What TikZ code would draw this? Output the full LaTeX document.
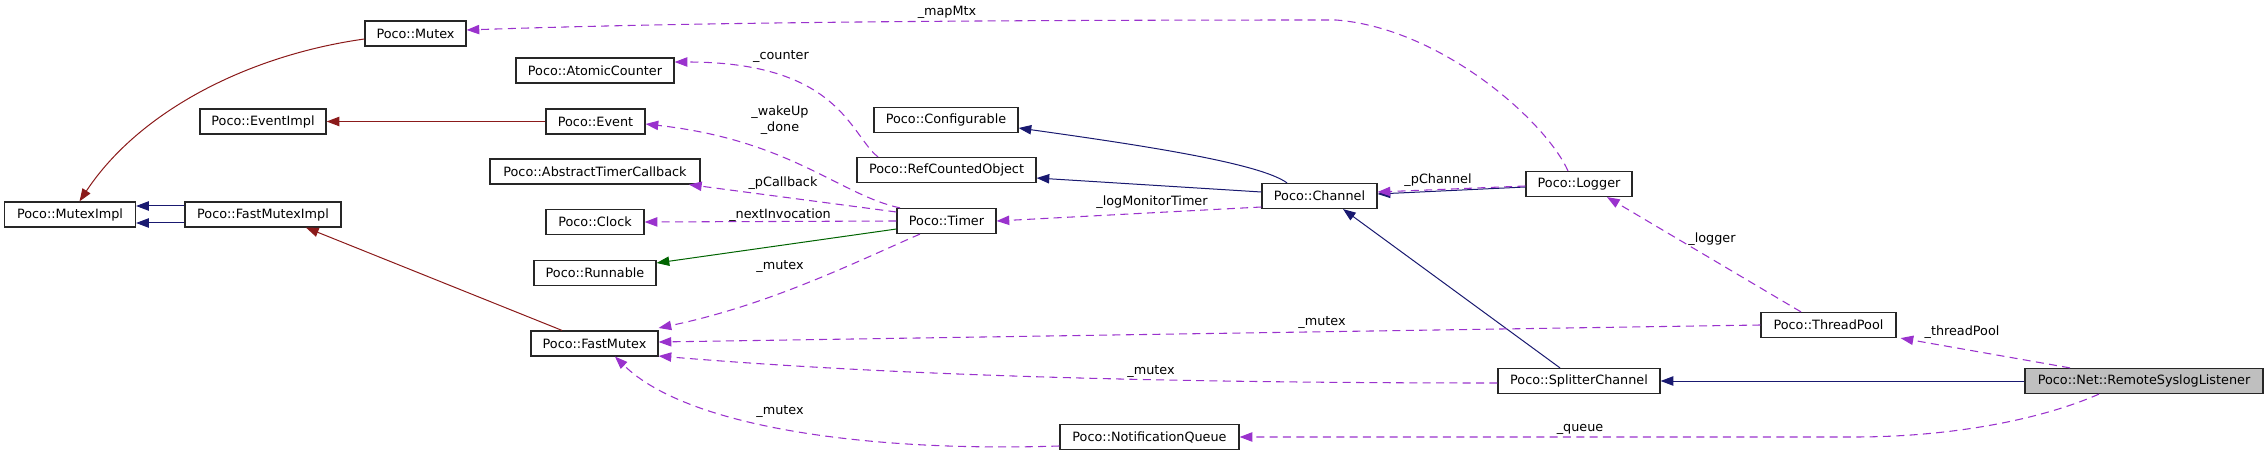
\documentclass[tikz,border=0pt]{standalone}
\usepackage{fontspec}
\setmainfont{DejaVu Sans}
\usetikzlibrary{arrows.meta}
\newlength\pxu
\setlength\pxu{0.75pt}
\definecolor{usecol}{HTML}{9A32CD}
\definecolor{inhcol}{HTML}{191970}
\definecolor{privcol}{HTML}{8B1A1A}
\definecolor{protcol}{HTML}{006400}
\definecolor{selfcol}{HTML}{BFBFBF}
\begin{document}
\begin{tikzpicture}[x=0.75pt,y=-0.75pt,
  every node/.style={font=\fontsize{9.6}{11.5}\selectfont},
  cls/.style={draw=black!85, line width=0.9pt, fill=white, inner sep=0pt, minimum height=25\pxu},
  tipstyle/.style={-{Triangle[length=9.5pt,width=7pt]}},
  usage/.style={tipstyle, draw=usecol, line width=0.8pt, dash pattern=on 6pt off 4pt},
  inh/.style={tipstyle, draw=inhcol, line width=0.75pt},
  priv/.style={tipstyle, draw=privcol, line width=0.75pt},
  prot/.style={tipstyle, draw=protcol, line width=0.75pt},
  lbl/.style={inner sep=0pt, align=center}
]
\useasboundingbox (0,0) rectangle (2268,456);

% ---- nodes ----
\node[cls, minimum width=101\pxu] (mutex) at (415.5,33.5) {Poco::Mutex};
\node[cls, minimum width=158\pxu] (atomic) at (595,70.5) {Poco::AtomicCounter};
\node[cls, minimum width=126\pxu] (eventimpl) at (263,121.5) {Poco::EventImpl};
\node[cls, minimum width=99\pxu] (event) at (595.5,121.5) {Poco::Event};
\node[cls, minimum width=210\pxu] (atc) at (595,171.5) {Poco::AbstractTimerCallback};
\node[cls, minimum width=131\pxu] (muteximpl) at (70,214.5) {Poco::MutexImpl};
\node[cls, minimum width=156\pxu] (fmi) at (263,214.5) {Poco::FastMutexImpl};
\node[cls, minimum width=98\pxu] (clock) at (595,222) {Poco::Clock};
\node[cls, minimum width=122\pxu] (runnable) at (595,273) {Poco::Runnable};
\node[cls, minimum width=127\pxu] (fastmutex) at (594.5,343.5) {Poco::FastMutex};
\node[cls, minimum width=144\pxu] (configurable) at (946,120) {Poco::Configurable};
\node[cls, minimum width=179\pxu] (refcounted) at (946.5,170) {Poco::RefCountedObject};
\node[cls, minimum width=99\pxu] (timer) at (946.5,221) {Poco::Timer};
\node[cls, minimum width=179\pxu] (notifq) at (1149.5,437) {Poco::NotificationQueue};
\node[cls, minimum width=115\pxu] (channel) at (1319.5,196) {Poco::Channel};
\node[cls, minimum width=106\pxu] (logger) at (1579,184) {Poco::Logger};
\node[cls, minimum width=135\pxu] (threadpool) at (1828.5,325) {Poco::ThreadPool};
\node[cls, minimum width=162\pxu] (splitter) at (1579,381) {Poco::SplitterChannel};
\node[cls, minimum width=238\pxu, fill=selfcol] (rsl) at (2144,381) {Poco::Net::RemoteSyslogListener};

% ---- inheritance / solid edges ----
\draw[priv] ([yshift=-5.5\pxu]mutex.west) .. controls (250,55) and (140,110) .. ([xshift=9.5\pxu]muteximpl.north);
\draw[priv] (event.west) -- (eventimpl.east);
\draw[inh] ([yshift=8.5\pxu]fmi.west) -- ([yshift=8.5\pxu]muteximpl.east);
\draw[inh] ([yshift=-8.5\pxu]fmi.west) -- ([yshift=-8.5\pxu]muteximpl.east);
\draw[priv] ([xshift=-32.5\pxu]fastmutex.north) -- ([xshift=43\pxu]fmi.south);
\draw[prot] ([yshift=-8\pxu]timer.west) -- ([yshift=10\pxu]runnable.east);
\draw[inh] ([xshift=-32.5\pxu]channel.north) .. controls (1260,163) and (1140,145) .. ([yshift=-8\pxu]configurable.east);
\draw[inh] ([yshift=4\pxu]channel.west) -- ([yshift=-8\pxu]refcounted.east);
\draw[inh] ([yshift=-3\pxu]logger.west) -- ([yshift=2\pxu]channel.east);
\draw[inh] ([xshift=-19\pxu]splitter.north) -- ([xshift=23.5\pxu]channel.south);
\draw[inh] (rsl.west) -- (splitter.east);

% ---- usage (dashed) edges ----
\draw[usage] ([xshift=-11\pxu]logger.north) .. controls (1545,120) and (1440,28) .. (1336,20)
   .. controls (1000,20) and (700,22) .. ([yshift=3.5\pxu]mutex.east);
\draw[usage] ([xshift=-68.5\pxu]refcounted.north) .. controls (850,135) and (840,62) .. ([yshift=8.5\pxu]atomic.east);
\draw[usage] ([xshift=-46.5\pxu]timer.north) .. controls (840,195) and (790,140) .. ([yshift=-2.5\pxu]event.east);
\draw[usage] ([yshift=9\pxu]timer.west) -- ([xshift=94\pxu]atc.south);
\draw[usage] (timer.west) -- (clock.east);
\draw[usage] ([xshift=-26.5\pxu]timer.south) .. controls (860,260) and (770,305) .. ([yshift=15.5\pxu]fastmutex.east);
\draw[usage] ([yshift=-11\pxu]channel.west) -- (timer.east);
\draw[usage] ([yshift=-2\pxu]logger.west) -- ([yshift=4\pxu]channel.east);
\draw[usage] ([xshift=-27.5\pxu]threadpool.north) -- ([xshift=28\pxu]logger.south);
\draw[usage] (threadpool.west) -- ([yshift=1.5\pxu]fastmutex.east);
\draw[usage] ([yshift=-2\pxu]splitter.west) .. controls (1100,383) and (850,372) .. ([yshift=-12.5\pxu]fastmutex.east);
\draw[usage] ([xshift=-74\pxu]rsl.north) -- ([xshift=4\pxu]threadpool.south east);
\draw[usage] ([xshift=-45\pxu]rsl.south) .. controls (2040,420) and (1950,437) .. (1854,437) -- (notifq.east);
\draw[usage] ([yshift=-9\pxu]notifq.west) .. controls (880,452) and (690,430) .. ([xshift=20.5\pxu]fastmutex.south);

% ---- labels ----
\node[lbl] (l1) at (947,12) {\_mapMtx};
\node[lbl] (l2) at (781,57) {\_counter};
\node[lbl] (l3) at (780,120) {\_wakeUp\\\_done};
\node[lbl] (l4) at (783,183) {\_pCallback};
\node[lbl] (l5) at (780,215) {\_nextInvocation};
\node[lbl] (l6) at (780,267) {\_mutex};
\node[lbl] (l7) at (1152,202) {\_logMonitorTimer};
\node[lbl] (l8) at (1438,180) {\_pChannel};
\node[lbl] (l9) at (1712,239) {\_logger};
\node[lbl] (l10) at (1322,323) {\_mutex};
\node[lbl] (l11) at (1962,332) {\_threadPool};
\node[lbl] (l12) at (1151,372) {\_mutex};
\node[lbl] (l13) at (1580,429) {\_queue};
\node[lbl] (l14) at (780,412) {\_mutex};
\end{tikzpicture}
\end{document}
